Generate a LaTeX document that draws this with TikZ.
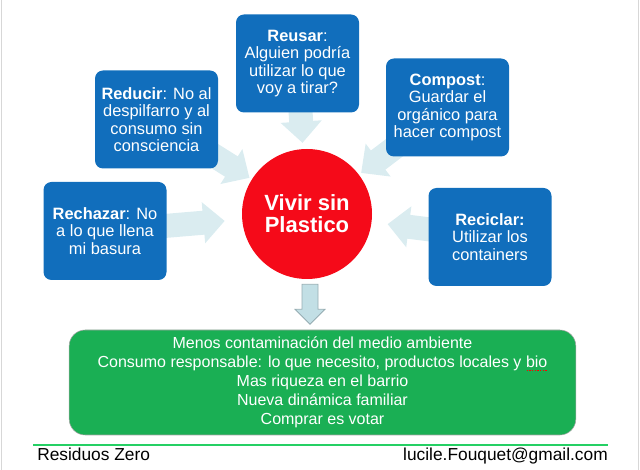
\documentclass[tikz,border=0pt]{standalone}
\usepackage{fontspec}
\setmainfont{Liberation Sans}
\usetikzlibrary{arrows.meta,calc,backgrounds}
\definecolor{boxblue}{RGB}{17,110,188}
\definecolor{plasticred}{RGB}{245,10,25}
\definecolor{resultgreen}{RGB}{26,175,84}
\definecolor{arrowpale}{RGB}{218,236,240}
\definecolor{arrowfill}{RGB}{194,223,229}
\definecolor{arrowedge}{RGB}{150,172,178}
\definecolor{footgreen}{RGB}{37,208,100}
\definecolor{edgegray}{RGB}{215,215,215}
% red dotted spell-check mark under a word
\newcommand{\spellmark}[1]{\setbox0=\hbox{#1}\rlap{\color{red}\raisebox{-2.6pt}{\hbox to\wd0{\leaders\hbox to 2pt{\hss\rule{1pt}{0.9pt}\hss}\hfill}}}#1}
\tikzset{
  rbox/.style={rectangle, rounded corners=6pt, fill=boxblue, text=white,
               minimum width=92.25pt, minimum height=73.5pt, inner sep=1pt,
               align=center, font=\fontsize{12.3}{13}\selectfont},
  goal/.style={circle, fill=plasticred, text=white, minimum size=97.5pt, inner sep=0pt,
               align=center, font=\fontsize{16.5}{16.5}\selectfont\bfseries},
  result/.style={rectangle, rounded corners=12pt, fill=resultgreen, draw=gray!70, thin,
                 text=white, minimum width=380pt, minimum height=78.75pt,
                 align=center, font=\fontsize{12}{14.3}\selectfont},
  lightarrow/.style={line width=18pt, arrowpale, -{Triangle[length=16pt,width=30pt]}},
  downarrow/.style={fill=arrowfill, draw=arrowedge, line width=0.6pt, line join=miter},
  foot/.style={inner sep=0pt, font=\fontsize{13}{13}\selectfont},
}

\begin{document}
\begin{tikzpicture}[x=0.75pt, y=-0.75pt]
\useasboundingbox (0,0) rectangle (640,470);
\draw[edgegray] (1,0) -- (1,470);
\draw[edgegray] (638,0) -- (638,470);

\node[goal] (vivir) at (307,214) {Vivir sin\\Plastico};

\node[rbox] (reusar) at (297.5,63.5) {\textbf{Reusar}:\\Alguien podría\\utilizar lo que\\voy a tirar?};
\node[rbox] (reducir) at (156.5,119.5) {\textbf{Reducir}: No al\\despilfarro y al\\consumo sin\\consciencia};
\node[rbox] (compost) at (447.5,107.5) {\textbf{Compost}:\\Guardar el\\orgánico para\\hacer compost};
\node[rbox] (rechazar) at (105,231) {\textbf{Rechazar}: No\\a lo que llena\\mi basura};
\node[rbox] (reciclar) at (490,237) {\textbf{Reciclar:}\\Utilizar los\\containers};

\begin{scope}[on background layer]
\foreach \a/\s in {reusar/4.5pt, reducir/2pt, compost/2pt, rechazar/13pt, reciclar/12pt}
  \draw[lightarrow, shorten >=\s] (\a.center) -- (vivir);
\end{scope}

\node[result] (gains) at (322.5,382.5) {Menos contaminación del medio ambiente\\
  Consumo responsable: lo que necesito, productos locales y \spellmark{bio}\\
  Mas riqueza en el barrio\\Nueva dinámica familiar\\Comprar es votar};

\draw[downarrow] ($(vivir.south)+(-5,5)$) -- ++(16,0) -- ++(0,25) -- ++(7,0)
  -- ++(-15,15) -- ++(-15,-15) -- ++(7,0) -- cycle;

\coordinate (lineL) at (33,445);
\coordinate (lineR) at (608,445);
\draw[footgreen, line width=2pt] (lineL) -- (lineR);
\node[foot, anchor=base west] (brand) at (37,461) {Residuos Zero};
\node[foot, anchor=base east] (mail) at (608,461) {lucile.Fouquet@gmail.com};
\end{tikzpicture}
\end{document}
